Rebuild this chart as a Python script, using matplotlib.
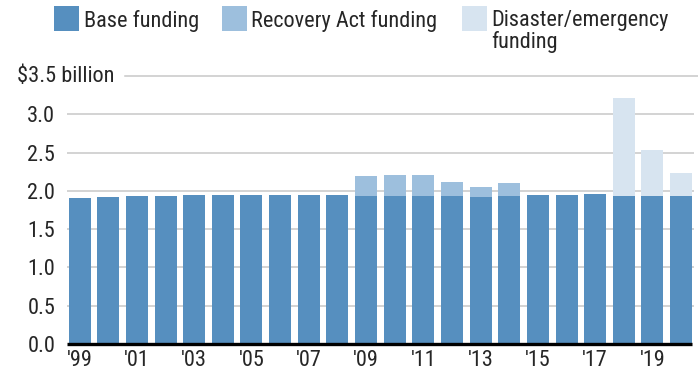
import matplotlib
matplotlib.use("Agg")
import matplotlib.pyplot as plt
from matplotlib.patches import Rectangle
from matplotlib import font_manager as fm

names = {f.name for f in fm.fontManager.ttflist}
fams = [n for n in ["Roboto Condensed", "Liberation Sans"] if n in names] + ["DejaVu Sans"]
plt.rcParams['font.family'] = fams

years = list(range(1999, 2021))
base = [1.91, 1.92, 1.93, 1.93, 1.94, 1.94, 1.94, 1.94, 1.94, 1.94, 1.93,
        1.93, 1.93, 1.93, 1.92, 1.93, 1.94, 1.95, 1.96, 1.93, 1.93, 1.93]
recovery = [0, 0, 0, 0, 0, 0, 0, 0, 0, 0, 0.26, 0.28, 0.28, 0.18, 0.13, 0.17,
            0, 0, 0, 0, 0, 0]
disaster = [0, 0, 0, 0, 0, 0, 0, 0, 0, 0, 0, 0, 0, 0, 0, 0,
            0, 0, 0, 1.28, 0.60, 0.30]

series_names = ["Base funding", "Recovery Act funding", "Disaster/emergency\nfunding"]
colors = ["#568FBF", "#9DBFDD", "#D7E4F0"]
yticks = [0.0, 0.5, 1.0, 1.5, 2.0, 2.5, 3.0]
xtick_labels = ["'99", "'01", "'03", "'05", "'07", "'09", "'11", "'13", "'15", "'17", "'19"]

FS = 16
TXT = "#262626"

W, H = 698, 371
fig = plt.figure(figsize=(W/100, H/100), dpi=100)
ax = fig.add_axes([67/W, 1 - 344/H, (694-67)/W, (344-76)/H])

x = list(range(len(years)))
bw = 0.77
ax.bar(x, base, width=bw, color=colors[0], zorder=2)
ax.bar(x, recovery, width=bw, bottom=base, color=colors[1], zorder=2)
bot3 = [b + r for b, r in zip(base, recovery)]
ax.bar(x, disaster, width=bw, bottom=bot3, color=colors[2], zorder=2)

ax.set_xlim(-0.44, 21.45)
ax.set_ylim(0, 3.5)
for s in ["top", "right", "left", "bottom"]:
    ax.spines[s].set_visible(False)
ax.plot([0, (692-67)/(694-67)], [0, 0], transform=ax.get_yaxis_transform(),
        color="black", lw=2.4, zorder=3, clip_on=False, solid_capstyle="butt")

ax.set_yticks(yticks)
ax.set_yticklabels([f"{v:.1f}" for v in yticks], fontsize=FS, color=TXT)
ax.tick_params(axis="y", length=0, pad=8.5)
for v in yticks[1:]:
    ax.axhline(v, color="#c8c8c8", lw=1.1, zorder=1)

ax.set_xticks([i for i in x if years[i] % 2 == 1])
ax.set_xticklabels(xtick_labels, fontsize=FS, color=TXT)
ax.tick_params(axis="x", length=0, pad=4)

fig.text(17/W, 1 - 77/H, "$3.5 billion", ha="left", va="center",
         fontsize=FS, color=TXT)
ax.plot([(125-67)/(694-67), 1.03], [3.5, 3.5], transform=ax.get_yaxis_transform(),
        color="#c8c8c8", lw=1.1, clip_on=False, zorder=1)

leg = [(54, 84), (222, 251), (462, 491)]
for (sx, tx), c, n in zip(leg, colors, series_names):
    fig.patches.append(Rectangle((sx/W, 1 - 31/H), 25/W, 25/H, transform=fig.transFigure,
                                 facecolor=c, edgecolor="none"))
    fig.text(tx/W, 1 - 10/H, n, ha="left", va="top", fontsize=FS, color=TXT,
             linespacing=1.0)

fig.savefig("out.png", dpi=100)
